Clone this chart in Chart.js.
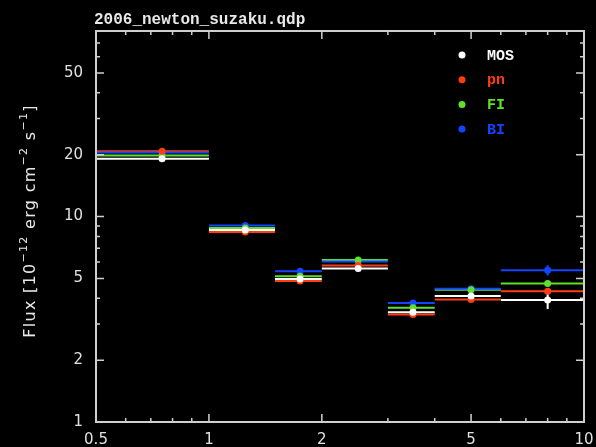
<!DOCTYPE html>
<html>
<head>
<meta charset="utf-8">
<script src="https://cdn.jsdelivr.net/npm/chart.js@4/dist/chart.umd.min.js"></script>
<style>
  html, body { margin: 0; padding: 0; background: #000; }
  #wrap { width: 596px; height: 447px; }
</style>
</head>
<body>
<div id="wrap"><canvas id="fluxChart" width="596" height="447"></canvas></div>
<script>
// Energy bins (keV)
const binLow  = [0.5, 1.0, 1.5, 2.0, 3.0, 4.0, 6.0];
const binHigh = [1.0, 1.5, 2.0, 3.0, 4.0, 6.0, 10.0];
const binMid  = [0.75, 1.25, 1.75, 2.5, 3.5, 5.0, 8.0];

// Flux per bin, 1e-12 erg/cm2/s
const fluxMOS = [19.1, 8.6, 4.97, 5.58, 3.42, 4.1, 3.93];
const fluxPN  = [20.8, 8.42, 4.86, 5.78, 3.34, 3.95, 4.33];
const fluxFI  = [19.8, 8.8, 5.12, 6.15, 3.6, 4.4, 4.72];
const fluxBI  = [20.5, 9.05, 5.42, 6.05, 3.8, 4.45, 5.48];

// 1-sigma errors on flux
const errMOS = [0.25, 0.1, 0.06, 0.07, 0.05, 0.07, 0.38];
const errPN  = [0.2, 0.08, 0.05, 0.06, 0.04, 0.05, 0.12];
const errFI  = [0.25, 0.1, 0.06, 0.07, 0.05, 0.07, 0.15];
const errBI  = [0.3, 0.12, 0.07, 0.08, 0.06, 0.1, 0.32];

const seriesNames  = ['MOS', 'pn', 'FI', 'BI'];
const seriesColors = ['#ffffff', '#ff3c14', '#5ee02c', '#1444ff'];

const xTicks = [0.5, 0.6, 0.7, 0.8, 0.9, 1, 2, 3, 4, 5, 6, 7, 8, 9, 10];
const xLabels = [0.5, 1, 2, 5, 10];
const yTicks = [1, 2, 3, 4, 5, 6, 7, 8, 9, 10, 20, 30, 40, 50, 60, 70, 80];
const yLabels = [1, 2, 5, 10, 20, 50];

const fluxes = [fluxMOS, fluxPN, fluxFI, fluxBI];
const errors = [errMOS, errPN, errFI, errBI];

const datasets = seriesNames.map((name, s) => ({
    label: name,
    data: binMid.map((x, i) => ({ x: x, y: fluxes[s][i] })),
    backgroundColor: seriesColors[s],
    borderWidth: 0,
    pointRadius: 3.5,
    pointHoverRadius: 3.5
}));

// bin widths and error bars, drawn before the points
const errorBars = {
    id: 'errorBars',
    beforeDatasetsDraw(chart) {
        const { ctx, scales: { x, y } } = chart;
        ctx.save();
        ctx.lineWidth = 2;
        fluxes.forEach((vals, s) => {
            ctx.strokeStyle = seriesColors[s];
            vals.forEach((v, i) => {
                const py = y.getPixelForValue(v);
                ctx.beginPath();
                ctx.moveTo(x.getPixelForValue(binLow[i]), py);
                ctx.lineTo(x.getPixelForValue(binHigh[i]), py);
                const px = x.getPixelForValue(binMid[i]);
                ctx.moveTo(px, y.getPixelForValue(v - errors[s][i]));
                ctx.lineTo(px, y.getPixelForValue(v + errors[s][i]));
                ctx.stroke();
            });
        });
        ctx.restore();
    }
};

// frame with inward ticks, title, y label and legend
const decorations = {
    id: 'decorations',
    afterDraw(chart) {
        const { ctx, chartArea: a, scales: { x, y } } = chart;
        ctx.save();
        ctx.strokeStyle = '#cfcfcf';
        ctx.lineWidth = 2;
        ctx.strokeRect(a.left, a.top, a.right - a.left, a.bottom - a.top);

        ctx.lineWidth = 1.5;
        ctx.beginPath();
        xTicks.forEach(v => {
            const px = x.getPixelForValue(v);
            const len = xLabels.includes(v) ? 8 : 4;
            ctx.moveTo(px, a.bottom); ctx.lineTo(px, a.bottom - len);
            ctx.moveTo(px, a.top); ctx.lineTo(px, a.top + len);
        });
        yTicks.forEach(v => {
            const py = y.getPixelForValue(v);
            const len = yLabels.includes(v) ? 8 : 4;
            ctx.moveTo(a.left, py); ctx.lineTo(a.left + len, py);
            ctx.moveTo(a.right, py); ctx.lineTo(a.right - len, py);
        });
        ctx.stroke();

        // title
        ctx.fillStyle = '#e8e8e8';
        ctx.font = 'bold 16px "Liberation Mono"';
        ctx.textAlign = 'left';
        ctx.textBaseline = 'alphabetic';
        ctx.fillText('2006_newton_suzaku.qdp', a.left - 2, 24);

        // y axis title with superscripts
        const parts = [
            ['Flux [10', false], ['\u221212', true], [' erg cm', false],
            ['\u22122', true], [' s', false], ['\u22121', true], [']', false]
        ];
        const mainFont = '16px "DejaVu Sans"';
        const supFont = '11px "DejaVu Sans"';
        ctx.letterSpacing = '1.3px';
        let total = 0;
        parts.forEach(([t, sup]) => {
            ctx.font = sup ? supFont : mainFont;
            total += ctx.measureText(t).width;
        });
        ctx.translate(35, 221);
        ctx.rotate(-Math.PI / 2);
        let cx = -total / 2;
        parts.forEach(([t, sup]) => {
            ctx.font = sup ? supFont : mainFont;
            ctx.fillText(t, cx, sup ? -8 : 0);
            cx += ctx.measureText(t).width;
        });
        ctx.setTransform(1, 0, 0, 1, 0, 0);
        ctx.letterSpacing = '0px';

        // legend
        ctx.font = 'bold 15px "Liberation Mono"';
        ctx.textBaseline = 'middle';
        seriesNames.forEach((name, s) => {
            const ly = 55 + s * 24.7;
            ctx.fillStyle = seriesColors[s];
            ctx.beginPath();
            ctx.arc(462, ly, 3.5, 0, Math.PI * 2);
            ctx.fill();
            ctx.fillText(name, 487, ly + 1);
        });
        ctx.restore();
    }
};

const tickFont = { family: '"DejaVu Sans"', size: 15 };

new Chart(document.getElementById('fluxChart'), {
    type: 'scatter',
    data: { datasets: datasets },
    plugins: [errorBars, decorations],
    options: {
        responsive: false,
        animation: false,
        layout: { padding: { top: 31, right: 12, left: 0, bottom: 0 } },
        plugins: {
            legend: { display: false },
            tooltip: { enabled: false }
        },
        scales: {
            x: {
                type: 'logarithmic',
                min: 0.5,
                max: 10,
                grid: { display: false, drawTicks: false },
                border: { display: false },
                afterBuildTicks: scale => { scale.ticks = xTicks.map(v => ({ value: v })); },
                afterFit: scale => {
                    scale.height = 25;
                    scale.paddingLeft = 0;
                    scale.paddingRight = 0;
                },
                ticks: {
                    color: '#e0e0e0',
                    font: tickFont,
                    padding: 9,
                    autoSkip: false,
                    maxRotation: 0,
                    callback: v => xLabels.includes(v) ? String(v) : ''
                }
            },
            y: {
                type: 'logarithmic',
                min: 1,
                max: 80,
                grid: { display: false, drawTicks: false },
                border: { display: false },
                afterBuildTicks: scale => { scale.ticks = yTicks.map(v => ({ value: v })); },
                afterFit: scale => {
                    scale.width = 96;
                    scale.paddingTop = 0;
                    scale.paddingBottom = 0;
                },
                ticks: {
                    color: '#e0e0e0',
                    font: tickFont,
                    padding: 13,
                    autoSkip: false,
                    callback: v => yLabels.includes(v) ? String(v) : ''
                }
            }
        }
    }
});
</script>
</body>
</html>
